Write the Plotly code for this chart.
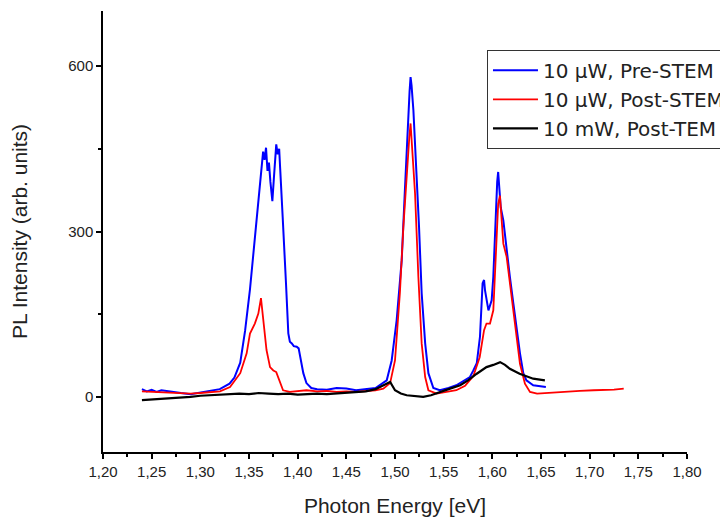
import plotly.graph_objects as go

# Pre-STEM (blue)
pre_x = [1.240,1.245,1.250,1.255,1.260,1.270,1.280,1.290,1.300,1.310,1.320,1.330,1.335,1.341,1.346,1.351,1.356,1.359,1.361,1.363,1.3645,1.366,1.3675,1.369,1.3705,1.372,1.374,1.3755,1.377,1.378,1.3795,1.381,1.382,1.3835,1.3846,1.388,1.3904,1.392,1.394,1.396,1.399,1.401,1.4025,1.4058,1.409,1.414,1.420,1.430,1.440,1.450,1.460,1.470,1.480,1.4915,1.4966,1.5017,1.5069,1.510,1.512,1.5137,1.515,1.516,1.517,1.5189,1.5216,1.5247,1.5274,1.531,1.5343,1.5394,1.546,1.555,1.563,1.570,1.577,1.5805,1.584,1.5873,1.590,1.5915,1.5925,1.596,1.5993,1.601,1.6038,1.605,1.606,1.607,1.6086,1.6113,1.6147,1.618,1.6216,1.625,1.6284,1.6318,1.635,1.642,1.648,1.655]
pre_y = [14,10,13,9,12,9,7,5,8,10,14,24,35,62,120,195,290,335,380,420,445,430,452,410,425,390,355,395,445,458,440,450,415,370,326,206,115,100,97,92,91,88,73,43,25,16,14,13,16,15,12,14,16,30,66,139,248,369,455,520,555,580,565,520,429,308,188,97,43,16,12,16,21,28,36,48,61,109,206,212,193,157,175,218,357,390,408,380,344,320,266,218,169,121,79,43,30,21,20,18]

# Post-STEM (red)
post_x = [1.240,1.250,1.260,1.270,1.280,1.290,1.300,1.310,1.3202,1.3305,1.341,1.3476,1.351,1.356,1.3596,1.3623,1.3646,1.368,1.3716,1.375,1.378,1.382,1.385,1.392,1.400,1.409,1.420,1.430,1.440,1.450,1.460,1.470,1.480,1.488,1.495,1.500,1.505,1.5086,1.512,1.5147,1.516,1.518,1.5206,1.524,1.5274,1.531,1.5343,1.5428,1.550,1.563,1.572,1.5805,1.587,1.5915,1.594,1.5976,1.601,1.6038,1.606,1.6078,1.6096,1.6113,1.6147,1.618,1.6216,1.625,1.6284,1.6335,1.6387,1.646,1.660,1.6695,1.680,1.690,1.704,1.715,1.725,1.735]
post_y = [10,9,8,8,6,6,7,8,10,18,43,79,115,133,151,179,145,85,54,48,45,25,12,9,10,12,10,11,9,10,9,11,12,15,25,66,188,308,405,471,496,441,369,218,97,36,12,6,8,12,20,38,72,121,133,133,157,266,350,365,326,278,254,206,157,109,60,24,9,6,8,9,10,11,12,12,13,15]

# Post-TEM (black)
tem_x = [1.240,1.250,1.260,1.270,1.280,1.290,1.300,1.310,1.320,1.330,1.340,1.350,1.360,1.370,1.380,1.390,1.400,1.410,1.420,1.430,1.440,1.450,1.460,1.470,1.480,1.488,1.495,1.500,1.506,1.512,1.520,1.529,1.537,1.546,1.555,1.567,1.575,1.584,1.594,1.601,1.608,1.613,1.618,1.628,1.642,1.654]
tem_y = [-6,-5,-4,-3,-1,0,2,3,4,6,6,5,7,6,5,6,4,5,6,5,6,7,8,10,14,21,27,12,6,3,2,0,3,9,14,21,30,42,54,58,63,58,51,42,33,30]

x_ticks = [1.20,1.25,1.30,1.35,1.40,1.45,1.50,1.55,1.60,1.65,1.70,1.75,1.80]
y_ticks = [0,300,600]

FONT = "Liberation Sans, Arial, sans-serif"
LEGEND_FONT = "DejaVu Sans, Liberation Sans, sans-serif"

fig = go.Figure()
fig.add_trace(go.Scatter(x=pre_x, y=pre_y, mode="lines", name="10 µW, Pre-STEM",
                         line=dict(color="#0000FF", width=2)))
fig.add_trace(go.Scatter(x=post_x, y=post_y, mode="lines", name="10 µW, Post-STEM",
                         line=dict(color="#FF0000", width=1.8)))
fig.add_trace(go.Scatter(x=tem_x, y=tem_y, mode="lines", name="10 mW, Post-TEM",
                         line=dict(color="#000000", width=2.2)))

fig.update_layout(
    width=720, height=512,
    margin=dict(l=95, r=41, t=3, b=68, autoexpand=False),
    paper_bgcolor="white", plot_bgcolor="white",
    separators=",.",
    font=dict(family=FONT, color="#222222", size=15),
    showlegend=True,
    legend=dict(x=0.6575, y=0.912, xanchor="left", yanchor="top",
                bgcolor="white", bordercolor="#333333", borderwidth=1,
                font=dict(size=20, family=LEGEND_FONT, color="#222222"),
                itemwidth=45, tracegroupgap=0),
    xaxis=dict(range=[1.20, 1.80], tickvals=x_ticks, tickformat=".2f",
               showgrid=False, zeroline=False, showline=True, linecolor="black", linewidth=1.5,
               ticks="outside", ticklen=5, tickwidth=1.5, tickcolor="black",
               minor=dict(dtick=0.025, ticks="outside", ticklen=3, tickwidth=1.5, tickcolor="black"),
               tickfont=dict(size=15),
               title=dict(text="Photon Energy [eV]", font=dict(size=21), standoff=20)),
    yaxis=dict(range=[-100, 700], tickvals=y_ticks,
               showgrid=False, zeroline=False, showline=True, linecolor="black", linewidth=1.5,
               ticks="outside", ticklen=5, tickwidth=1.5, tickcolor="black",
               minor=dict(tickvals=[150, 450], ticks="outside", ticklen=3, tickwidth=1.5, tickcolor="black"),
               tickfont=dict(size=15),
               title=dict(text="PL Intensity (arb. units)", font=dict(size=21), standoff=40)),
)

fig.write_html("out.html")
